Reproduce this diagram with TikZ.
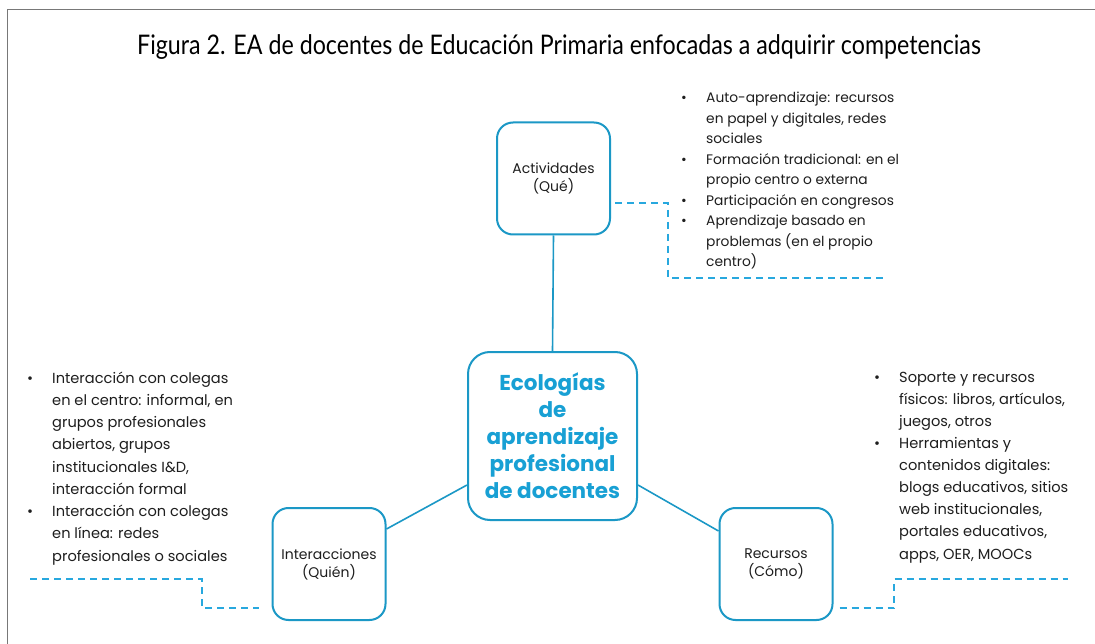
\documentclass[tikz,border=0pt]{standalone}
\usepackage{fontspec}
\setmainfont{Poppins}
\newfontfamily\titlefont[FakeStretch=0.86]{Lato}
\usetikzlibrary{calc}
\definecolor{boxblue}{RGB}{27,152,198}
\definecolor{textblue}{RGB}{24,160,212}
\definecolor{dashblue}{RGB}{40,168,222}
\definecolor{framegray}{RGB}{120,120,120}
\definecolor{bodytext}{RGB}{30,30,30}
\newcommand{\bl}{\makebox[25pt][l]{\textbullet}}
\newcommand{\ind}{\hspace*{25pt}}
\begin{document}
\begin{tikzpicture}[x=1pt,y=-1pt,
  catbox/.style={draw=boxblue, line width=2pt, rounded corners=16pt,
    minimum width=113pt, minimum height=112pt, align=center, inner sep=0pt,
    text=bodytext, font=\fontsize{14}{18}\selectfont},
  centerbox/.style={draw=boxblue, line width=2pt, rounded corners=22pt,
    minimum width=169pt, minimum height=168pt, align=center, inner sep=0pt,
    text=textblue, font=\fontsize{21.5}{27}\selectfont\bfseries},
  link/.style={draw=boxblue, line width=1.6pt},
  dashline/.style={draw=dashblue, line width=2pt, dash pattern=on 7pt off 5pt},
  listtext/.style={align=left, inner sep=0pt, anchor=base west, text=bodytext}
]
\useasboundingbox (0,0) rectangle (1095,644);
\fill[white] (0,0) rectangle (1095,644);
% frame
\draw[framegray, line width=1.5pt] (7.5,644) -- (7.5,9.5) -- (1095,9.5);
% title
\node[font=\titlefont\fontsize{27}{30}\selectfont, anchor=base] (title) at (559,55)
  {Figura 2. EA de docentes de Educación Primaria enfocadas a adquirir competencias};

% boxes
\node[catbox] (act) at (553.5,178.5) {Actividades\\(Qué)};
\node[centerbox] (eco) at (552.5,436) {Ecologías\\de\\aprendizaje\\profesional\\de docentes};
\node[catbox] (inter) at (329,564) {Interacciones\\(Quién)};
\node[catbox] (rec) at (776,564) {Recursos\\(Cómo)};

% connectors
\draw[link] (act.south) -- (eco.north);
\draw[link] ([yshift=-22pt]inter.north east) -- ([yshift=36pt]eco.south west);
\draw[link] ([yshift=36pt]eco.south east) -- ([yshift=-24pt]rec.north west);

% dashed brackets
\coordinate (dtop) at (887,278);
\draw[dashline] ([shift={(4pt,-24.5pt)}]act.east) -- ++(53,0) |- (dtop);
\coordinate (dleft) at (30,579);
\draw[dashline] (dleft) -- (202,579) -- (202,608) -- ([shift={(-13pt,-44pt)}]inter.west);
\coordinate (dright) at (1068,579);
\draw[dashline] ([shift={(6pt,-44pt)}]rec.east) -- (894,608) -- (894,579) -- (dright);

% lists (anchored at the baseline of their last line)
\node[listtext, font=\fontsize{13.8}{20.5}\selectfont] (listact) at (681,267)
{\bl Auto-aprendizaje: recursos\\
 \ind en papel y digitales, redes\\
 \ind sociales\\
 \bl Formación tradicional: en el\\
 \ind propio centro o externa\\
 \bl Participación en congresos\\
 \bl Aprendizaje basado en\\
 \ind problemas (en el propio\\
 \ind centro)};

\node[listtext, font=\fontsize{14.6}{22.25}\selectfont] (listint) at (27,561)
{\bl Interacción con colegas\\
 \ind en el centro: informal, en\\
 \ind grupos profesionales\\
 \ind abiertos, grupos\\
 \ind institucionales I\&D,\\
 \ind interacción formal\\
 \bl Interacción con colegas\\
 \ind en línea: redes\\
 \ind profesionales o sociales};

\node[listtext, font=\fontsize{14.6}{22.1}\selectfont] (listrec) at (874,559)
{\bl Soporte y recursos\\
 \ind físicos: libros, artículos,\\
 \ind juegos, otros\\
 \bl Herramientas y\\
 \ind contenidos digitales:\\
 \ind blogs educativos, sitios\\
 \ind web institucionales,\\
 \ind portales educativos,\\
 \ind apps, OER, MOOCs};
\end{tikzpicture}
\end{document}
